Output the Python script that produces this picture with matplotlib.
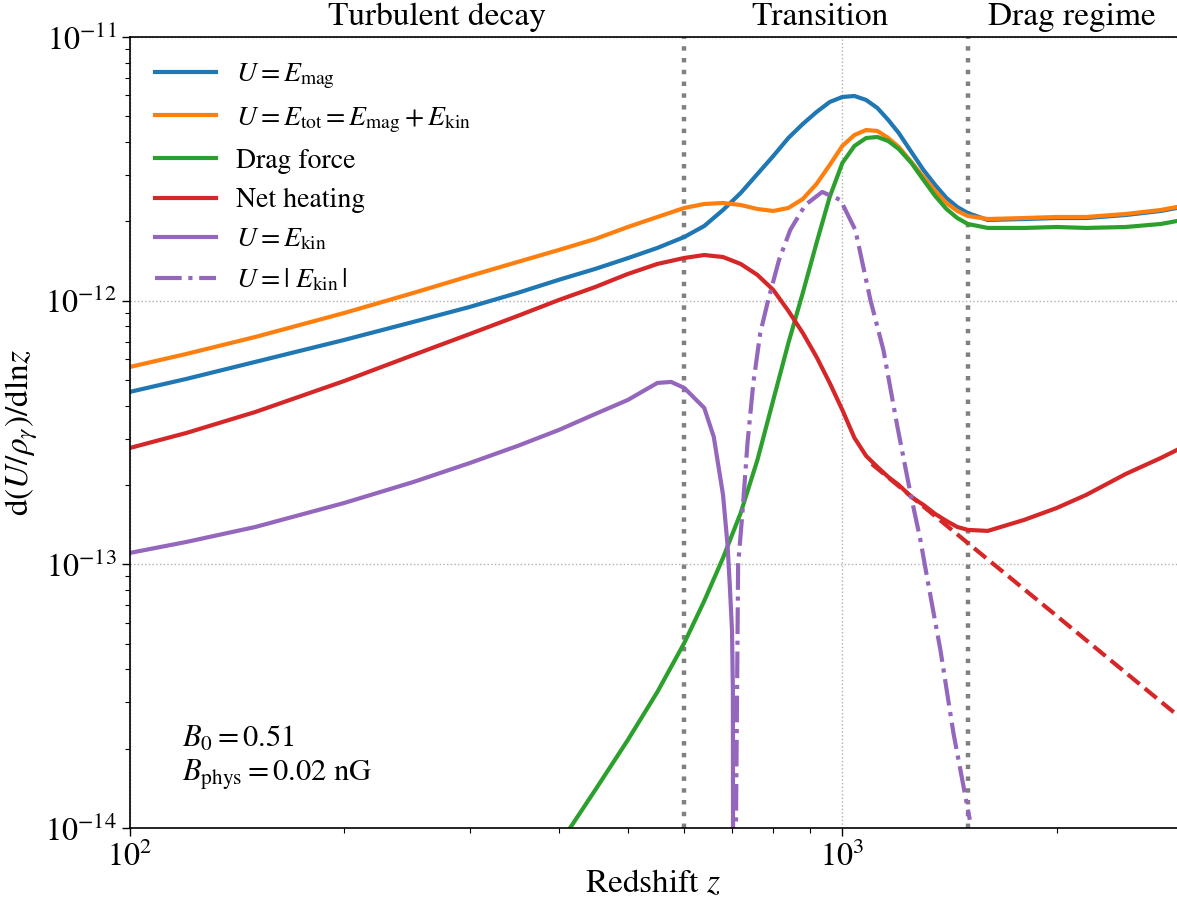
import matplotlib
matplotlib.use("Agg")
import matplotlib.pyplot as plt
from matplotlib.ticker import LogLocator, NullFormatter

plt.rcParams.update({
    "font.family": "STIXGeneral",
    "mathtext.fontset": "stix",
    "font.size": 20,
    "axes.linewidth": 1.2,
    "xtick.labelsize": 23,
    "ytick.labelsize": 23,
    "xtick.major.size": 6,
    "ytick.major.size": 6,
    "xtick.minor.size": 3.5,
    "ytick.minor.size": 3.5,
    "xtick.major.width": 1.0,
    "ytick.major.width": 1.0,
    "xtick.minor.width": 0.8,
    "ytick.minor.width": 0.8,
})

# Redshift sampling shared by most curves
z = [100, 120, 150, 200, 250, 300, 350, 400, 450, 500, 550, 600, 640, 680,
     720, 760, 800, 840, 880, 920, 960, 1000, 1040, 1080, 1120, 1160, 1200,
     1250, 1300, 1350, 1400, 1450, 1500, 1600, 1800, 2000, 2200, 2500, 2800,
     2950]

# d(U/rho_gamma)/dln z for each channel
e_mag = [4.51e-13, 5.05e-13, 5.86e-13, 7.10e-13, 8.31e-13, 9.47e-13, 1.07e-12,
         1.20e-12, 1.32e-12, 1.45e-12, 1.585e-12, 1.744e-12, 1.92e-12,
         2.208e-12, 2.561e-12, 3.023e-12, 3.538e-12, 4.14e-12, 4.679e-12,
         5.195e-12, 5.668e-12, 5.922e-12, 5.974e-12, 5.769e-12, 5.38e-12,
         4.846e-12, 4.325e-12, 3.664e-12, 3.13e-12, 2.747e-12, 2.452e-12,
         2.266e-12, 2.15e-12, 2.023e-12, 2.04e-12, 2.058e-12, 2.058e-12,
         2.113e-12, 2.189e-12, 2.247e-12]

e_tot = [5.606e-13, 6.28e-13, 7.286e-13, 8.984e-13, 1.07e-12, 1.241e-12,
         1.402e-12, 1.557e-12, 1.714e-12, 1.903e-12, 2.077e-12, 2.247e-12,
         2.326e-12, 2.347e-12, 2.306e-12, 2.227e-12, 2.189e-12, 2.247e-12,
         2.43e-12, 2.771e-12, 3.27e-12, 3.862e-12, 4.25e-12, 4.439e-12,
         4.401e-12, 4.14e-12, 3.828e-12, 3.357e-12, 2.945e-12, 2.606e-12,
         2.347e-12, 2.189e-12, 2.095e-12, 2.04e-12, 2.058e-12, 2.077e-12,
         2.077e-12, 2.132e-12, 2.208e-12, 2.266e-12]

z_drag = z[7:]
drag = [8.63e-15, 1.395e-14, 2.159e-14, 3.282e-14, 5.035e-14, 7.267e-14,
        1.058e-13, 1.567e-13, 2.489e-13, 4.203e-13, 6.913e-13, 1.07e-12,
        1.655e-12, 2.474e-12, 3.328e-12, 3.862e-12, 4.14e-12, 4.176e-12,
        4.032e-12, 3.761e-12, 3.328e-12, 2.869e-12, 2.496e-12, 2.227e-12,
        2.058e-12, 1.954e-12, 1.887e-12, 1.887e-12, 1.903e-12, 1.887e-12,
        1.903e-12, 1.954e-12, 2.005e-12]

net_heat = [2.764e-13, 3.15e-13, 3.784e-13, 4.961e-13, 6.225e-13, 7.477e-13,
            8.75e-13, 1.006e-12, 1.127e-12, 1.263e-12, 1.378e-12, 1.452e-12,
            1.49e-12, 1.464e-12, 1.378e-12, 1.252e-12, 1.098e-12, 9.141e-13,
            7.543e-13, 6.116e-13, 4.875e-13, 3.851e-13, 3.016e-13, 2.577e-13,
            2.341e-13, 2.145e-13, 2.001e-13, 1.801e-13, 1.68e-13, 1.553e-13,
            1.461e-13, 1.386e-13, 1.351e-13, 1.339e-13, 1.474e-13, 1.636e-13,
            1.834e-13, 2.202e-13, 2.532e-13, 2.715e-13]

# Power-law tail of the heating in the drag regime
z_tail = [1100, 1500, 2000, 2950]
heat_tail = [2.402e-13, 1.205e-13, 6.372e-14, 2.685e-14]

# Kinetic energy: positive branch, then its magnitude once it turns negative
z_kin = [100, 120, 150, 200, 250, 300, 350, 400, 450, 500, 550, 575, 600,
         640, 660, 680, 690, 695, 700, 702, 703]
e_kin = [1.105e-13, 1.216e-13, 1.386e-13, 1.71e-13, 2.053e-13, 2.423e-13,
         2.812e-13, 3.233e-13, 3.718e-13, 4.203e-13, 4.875e-13, 4.918e-13,
         4.667e-13, 3.918e-13, 3.042e-13, 1.834e-13, 1.185e-13, 8.356e-14,
         5.64e-14, 3.34e-14, 1e-15]

z_kin_abs = [704, 714, 724, 736, 750, 767, 787, 815, 845, 887, 937, 994, 1043,
             1095, 1142, 1195, 1246, 1287, 1317, 1373, 1432, 1510]
e_kin_abs = [1e-15, 9.95e-14, 1.567e-13, 2.886e-13, 4.875e-13, 7.543e-13,
             1.006e-12, 1.427e-12, 1.854e-12, 2.306e-12, 2.584e-12, 2.409e-12,
             1.854e-12, 1.006e-12, 6.503e-13, 3.32e-13, 1.866e-13, 1.238e-13,
             8.729e-14, 4.736e-14, 2.294e-14, 1.074e-14]

regime_bounds = [600, 1500]
regime_names = ["Turbulent decay", "Transition", "Drag regime"]
regime_label_z = [270, 930, 2100]

x_major = [100, 1000]
y_major = [1e-14, 1e-13, 1e-12, 1e-11]

fig = plt.figure(figsize=(11.77, 8.98), dpi=100)
ax = fig.add_axes([130 / 1177, 70 / 898, 1047 / 1177, 791 / 898])

lw = 3
ax.plot(z, e_mag, color="C0", lw=lw, label=r"$U = E_{\rm mag}$")
ax.plot(z, e_tot, color="C1", lw=lw,
        label=r"$U = E_{\rm tot} = E_{\rm mag} + E_{\rm kin}$")
ax.plot(z_drag, drag, color="C2", lw=lw, label="Drag force")
ax.plot(z, net_heat, color="C3", lw=lw, label="Net heating")
ax.plot(z_tail, heat_tail, color="C3", lw=lw, ls="--")
ax.plot(z_kin, e_kin, color="C4", lw=lw, label=r"$U = E_{\rm kin}$")
ax.plot(z_kin_abs, e_kin_abs, color="C4", lw=lw, ls="-.",
        label=r"$U = |\ E_{\rm kin}\,|$")

for zb in regime_bounds:
    ax.axvline(zb, color="gray", lw=3.2, ls=":", zorder=1)

ax.set_xscale("log")
ax.set_yscale("log")
ax.set_xticks(x_major)
ax.set_yticks(y_major)
ax.xaxis.set_minor_locator(LogLocator(base=10, subs=range(2, 10)))
ax.yaxis.set_minor_locator(LogLocator(base=10, subs=range(2, 10)))
ax.xaxis.set_minor_formatter(NullFormatter())
ax.yaxis.set_minor_formatter(NullFormatter())
ax.set_xlim(100, 2950)
ax.set_ylim(1e-14, 1e-11)
ax.grid(True, which="major", ls=":", color="#b0b0b0", lw=1.0)
ax.spines["right"].set_visible(False)

ax.set_xlabel(r"Redshift $z$", fontsize=24, labelpad=-2)
ax.set_ylabel(r"$\mathrm{d}(U/\rho_\gamma)/\mathrm{dln}z$", fontsize=24,
              labelpad=4)

for name, zx in zip(regime_names, regime_label_z):
    ax.text(zx, 1.006, name, transform=ax.get_xaxis_transform(),
            ha="center", va="bottom", fontsize=24)

ax.text(0.05, 0.045, "$B_0 = 0.51$\n$B_{\\rm phys} = 0.02$ nG",
        transform=ax.transAxes, ha="left", va="bottom", fontsize=22,
        linespacing=1.2)

ax.legend(loc="upper left", frameon=False, fontsize=20, handlelength=2.2,
          handletextpad=0.7, labelspacing=0.5)

fig.savefig("out.png", dpi=100)
